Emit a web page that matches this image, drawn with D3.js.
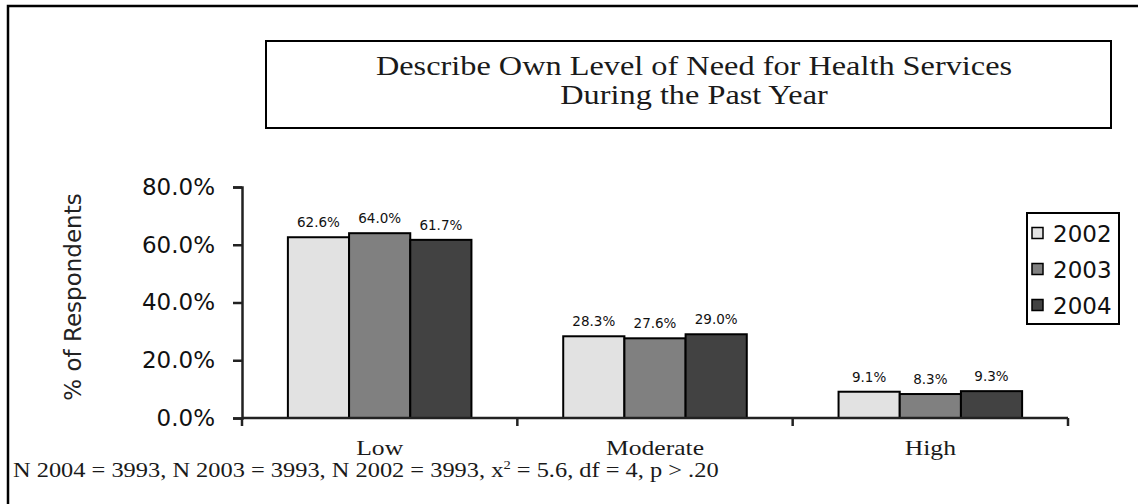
<!DOCTYPE html>
<html><head><meta charset="utf-8">
<script src="https://cdn.jsdelivr.net/npm/d3@7"></script>
<style>body{margin:0;background:#fff}svg{display:block}</style>
</head><body>
<svg id="c" width="1138" height="504"></svg>
<script>
const categories = ["Low", "Moderate", "High"];
const years = ["2002", "2003", "2004"];
const v2002 = [62.6, 28.3, 9.1];
const v2003 = [64.0, 27.6, 8.3];
const v2004 = [61.7, 29.0, 9.3];
const yTicks = [0, 20, 40, 60, 80];
const titleLines = ["Describe Own Level of Need for Health Services", "During the Past Year"];
const yTitle = "% of Respondents";
const colors = ["#e2e2e2", "#808080", "#424242"];

const series = [v2002, v2003, v2004];
const svg = d3.select("#c");
const serif = "'Liberation Serif', 'Times New Roman', serif";
const sans = "'DejaVu Sans', Verdana, sans-serif";
const SX = 1.22; // horizontal stretch of serif text in the original

// outer frame
svg.append("path").attr("d", "M8,520 L8,6 L1150,6").attr("fill", "none").attr("stroke", "#000").attr("stroke-width", 2.5);

// title box
svg.append("rect").attr("x", 266).attr("y", 41).attr("width", 845).attr("height", 87)
  .attr("fill", "#fff").attr("stroke", "#000").attr("stroke-width", 2);
svg.append("g").attr("transform", `translate(694,0) scale(${SX},1)`)
  .append("text").attr("font-family", serif).attr("font-size", 26.5).attr("fill", "#1a1a1a")
  .attr("text-anchor", "middle")
  .selectAll("tspan").data(titleLines).join("tspan")
  .attr("x", 0).attr("y", (d, i) => 75 + i * 29).text(d => d);

const x0 = d3.scaleBand().domain(categories).range([242, 1068]).paddingInner(0).paddingOuter(0);
const x1 = d3.scaleBand().domain(years).range([0, x0.bandwidth() * 2 / 3]);
const y = d3.scaleLinear().domain([0, 80]).range([418, 187]);

// bars
const g = svg.append("g");
categories.forEach((c, ci) => {
  const gx = x0(c) + x0.bandwidth() / 6;
  years.forEach((yr, si) => {
    const v = series[si][ci];
    g.append("rect").attr("x", gx + x1(yr)).attr("y", y(v))
      .attr("width", x1.bandwidth()).attr("height", y(0) - y(v))
      .attr("fill", colors[si]).attr("stroke", "#000").attr("stroke-width", 2);
    g.append("text").attr("x", gx + x1(yr) + x1.bandwidth() / 2).attr("y", y(v) - 10)
      .attr("text-anchor", "middle").attr("font-family", sans).attr("font-size", 13.5)
      .attr("fill", "#111").text(v.toFixed(1) + "%");
  });
});

// y axis
const ya = svg.append("g").attr("transform", "translate(242,0)")
  .call(d3.axisLeft(y).tickValues(yTicks).tickFormat(d => d.toFixed(1) + "%").tickSize(9).tickPadding(18));
ya.select(".domain").attr("stroke", "#222").attr("stroke-width", 2.5);
ya.selectAll(".tick line").attr("stroke", "#222").attr("stroke-width", 2.5);
ya.selectAll(".tick text").attr("font-family", sans).attr("font-size", 23).attr("fill", "#111");

// x axis
const xa = svg.append("g").attr("transform", "translate(0,418)");
xa.append("line").attr("x1", 242).attr("x2", 1068).attr("stroke", "#222").attr("stroke-width", 2.5);
const bounds = categories.map(c => x0(c)).concat([x0(categories[2]) + x0.bandwidth()]);
xa.selectAll("line.t").data(bounds).join("line").attr("class", "t")
  .attr("x1", d => d).attr("x2", d => d).attr("y1", 0).attr("y2", 8)
  .attr("stroke", "#222").attr("stroke-width", 2.5);
xa.selectAll("g.lab").data(categories).join("g").attr("class", "lab")
  .attr("transform", d => `translate(${x0(d) + x0.bandwidth() / 2},37) scale(${SX},1)`)
  .append("text").attr("text-anchor", "middle").attr("font-family", serif).attr("font-size", 21).attr("fill", "#1a1a1a")
  .text(d => d);

// y title
svg.append("text").attr("transform", "translate(81,297) rotate(-90)")
  .attr("text-anchor", "middle").attr("font-family", sans).attr("font-size", 23).attr("fill", "#222")
  .text(yTitle);

// legend
const lg = svg.append("g");
lg.append("rect").attr("x", 1027).attr("y", 213).attr("width", 92).attr("height", 111)
  .attr("fill", "#fff").attr("stroke", "#000").attr("stroke-width", 2);
years.forEach((yr, i) => {
  const cy = 233 + i * 36;
  lg.append("rect").attr("x", 1032).attr("y", cy - 5.5).attr("width", 11).attr("height", 11)
    .attr("fill", colors[i]).attr("stroke", "#000").attr("stroke-width", 1.5);
  lg.append("text").attr("x", 1053).attr("y", cy + 8.5).attr("font-family", sans).attr("font-size", 23)
    .attr("fill", "#111").text(yr);
});

// footnote
const fn = svg.append("g").attr("transform", `translate(13,477) scale(${SX},1)`)
  .append("text").attr("x", 0).attr("y", 0).attr("font-family", serif).attr("font-size", 20).attr("fill", "#1a1a1a");
fn.append("tspan").text("N 2004 = 3993, N 2003 = 3993, N 2002 = 3993, x");
fn.append("tspan").attr("dy", -8).attr("font-size", 12).text("2");
fn.append("tspan").attr("dy", 8).text(" = 5.6, df = 4, p > .20");
</script>
</body></html>
